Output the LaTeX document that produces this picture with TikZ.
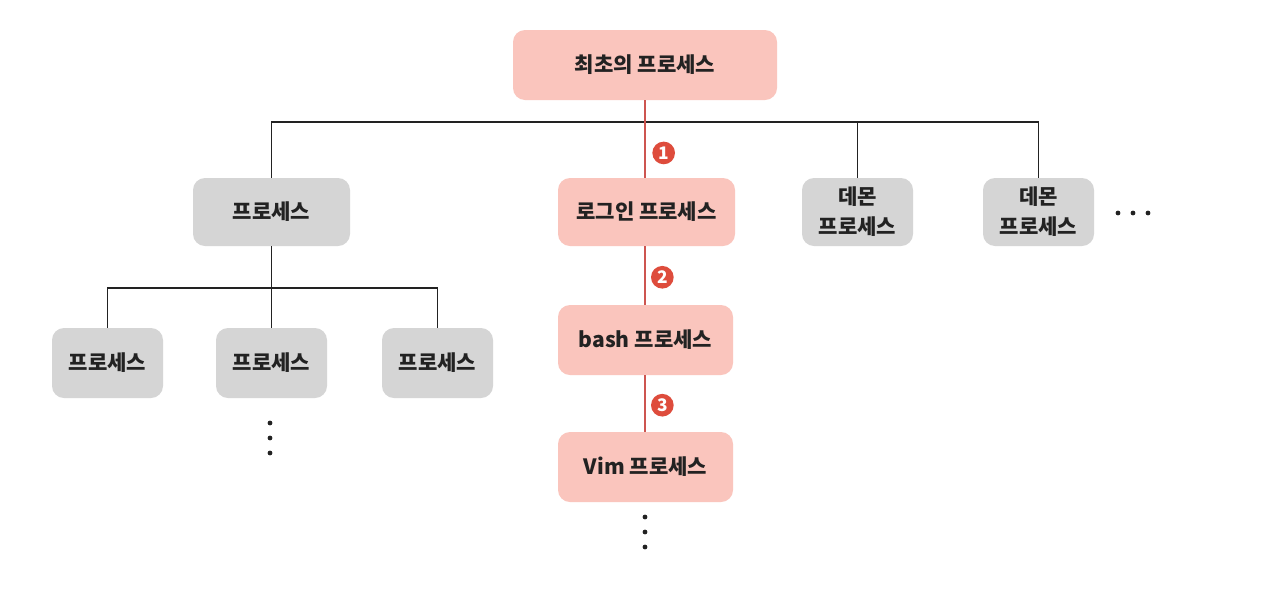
\documentclass[tikz,border=0pt]{standalone}
\usepackage{fontspec}
\setmainfont{Noto Sans CJK KR}
\usetikzlibrary{positioning}
\definecolor{pinkfill}{RGB}{250,197,189}
\definecolor{grayfill}{RGB}{213,213,213}
\definecolor{redline}{RGB}{205,85,80}
\definecolor{reddot}{RGB}{222,76,60}
\definecolor{ink}{RGB}{34,34,34}
\begin{document}
\begin{tikzpicture}[x=0.75pt,y=-0.75pt,
  box/.style={rounded corners=9pt, text=ink, font=\fontsize{15.8}{22.5}\selectfont\bfseries, align=center},
  pinkbox/.style={box, fill=pinkfill},
  graybox/.style={box, fill=grayfill},
  bus/.style={draw=ink, line width=1.2pt},
  redpath/.style={draw=redline, line width=0.8pt},
  numdot/.style={circle, fill=reddot, text=white, inner sep=0pt, minimum size=17pt, font=\fontsize{13}{13}\selectfont\bfseries}]
  \fill[white] (0,0) rectangle (1263,615) ;
  \useasboundingbox (0,0) rectangle (1263,615) ;
  \node[pinkbox, minimum width=198pt, minimum height=52.5pt] (init) at (645,65) {최초의 프로세스};
  \node[graybox, minimum width=117.75pt, minimum height=51pt] (proc) at (271.5,212) {프로세스};
  \node[pinkbox, minimum width=132.75pt, minimum height=51pt] (login) at (646.5,212) {로그인 프로세스};
  \node[graybox, minimum width=83.25pt, minimum height=51pt] (daemonA) at (857.5,212) {데몬\\프로세스};
  \node[graybox, minimum width=83.25pt, minimum height=51pt] (daemonB) at (1038.5,212) {데몬\\프로세스};
  \node[graybox, minimum width=83.25pt, minimum height=52.5pt] (childA) at (107.5,363) {프로세스};
  \node[graybox, minimum width=83.25pt, minimum height=52.5pt] (childB) at (271.5,363) {프로세스};
  \node[graybox, minimum width=83.25pt, minimum height=52.5pt] (childC) at (437.5,363) {프로세스};
  \node[pinkbox, minimum width=131.25pt, minimum height=52.5pt] (bash) at (645.5,340) {bash 프로세스};
  \node[pinkbox, minimum width=131.25pt, minimum height=52.5pt] (vim) at (645.5,467) {Vim 프로세스};
  % tree lines
  \coordinate (top) at (0,122) ;
  \coordinate (sub) at (0,288) ;
  \draw[bus] (proc.north) -- (proc.north |- top) -- (daemonB.north |- top) -- (daemonB.north) ;
  \draw[bus] (daemonA.north) -- (daemonA.north |- top) ;
  \draw[bus] (proc.south) -- (proc.south |- sub) ;
  \draw[bus] (childA.north) -- (childA.north |- sub) -- (childC.north |- sub) -- (childC.north) ;
  \draw[bus] (childB.north) -- (childB.north |- sub) ;
  % login chain
  \draw[redpath] (init.south -| 645,0) -- node[numdot, pos=0.68, xshift=14pt] (n1) {1} (login.north -| 645,0) ;
  \draw[redpath] (login.south -| 645,0) -- node[numdot, pos=0.53, xshift=13pt] (n2) {2} (bash.north -| 645,0) ;
  \draw[redpath] (bash.south -| 645,0) -- node[numdot, pos=0.53, xshift=13pt] (n3) {3} (vim.north -| 645,0) ;
  % more
  \foreach \y in {423,438,453} \fill[ink] (270,\y) circle (2.4) ;
  \foreach \y in {517,532,547} \fill[ink] (645,\y) circle (2.4) ;
  \foreach \x in {1118,1133,1148} \fill[ink] (\x,213) circle (2.4) ;
\end{tikzpicture}
\end{document}
